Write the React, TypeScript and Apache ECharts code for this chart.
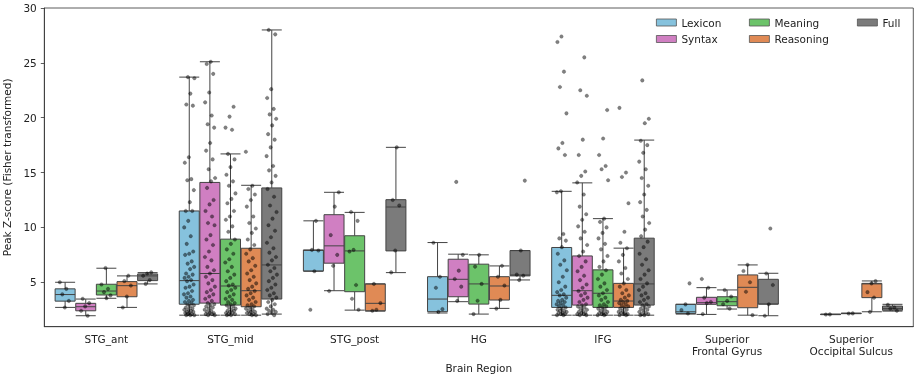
import React, { useEffect, useRef } from "react";
import * as echarts from "echarts";

const categories = [
  "STG_ant",
  "STG_mid",
  "STG_post",
  "HG",
  "IFG",
  "Superior\nFrontal Gyrus",
  "Superior\nOccipital Sulcus",
];
const seriesNames = ["Lexicon", "Syntax", "Meaning", "Reasoning", "Full"];
const colors = ["#86c2dd", "#d07fc2", "#6cc36a", "#e08a55", "#7b7b7b"];
const yTicks = [5, 10, 15, 20, 25, 30];

// [whisker low, Q1, median, Q3, whisker high] per category (Lexicon has no Superior Occipital Sulcus data)
const lexiconBoxes: number[][] = [
  [2.71, 3.28, 3.88, 4.4, 5.0],
  [2.0, 3.0, 5.15, 11.5, 23.7],
  [6.0, 6.03, 7.9, 7.95, 10.6],
  [2.2, 2.32, 3.47, 5.51, 8.62],
  [2.0, 2.71, 3.81, 8.17, 13.29],
  [2.1, 2.16, 2.31, 2.99, 2.99],
];
const syntaxBoxes: number[][] = [
  [1.95, 2.4, 2.77, 3.08, 3.47],
  [2.0, 3.1, 5.8, 14.1, 25.1],
  [4.23, 6.74, 8.32, 11.16, 13.2],
  [3.23, 3.68, 5.27, 7.1, 7.56],
  [2.0, 2.92, 4.23, 7.4, 14.06],
  [2.07, 2.99, 3.14, 3.63, 4.51],
  [2.05, 2.06, 2.07, 2.08, 2.09],
];
const meaningBoxes: number[][] = [
  [3.54, 3.84, 4.2, 4.82, 6.28],
  [2.0, 2.92, 4.66, 8.93, 16.7],
  [2.46, 4.14, 7.86, 9.24, 11.37],
  [2.1, 3.01, 4.85, 6.65, 7.5],
  [2.0, 2.71, 4.0, 6.13, 10.8],
  [2.56, 2.86, 3.23, 3.68, 4.3],
  [2.14, 2.15, 2.16, 2.17, 2.18],
];
const reasoningBoxes: number[][] = [
  [2.71, 3.68, 4.69, 5.06, 5.58],
  [2.0, 2.77, 4.23, 8.1, 13.84],
  [2.37, 2.4, 3.08, 4.85, 4.85],
  [2.62, 3.38, 4.66, 5.51, 6.49],
  [2.0, 2.71, 3.29, 4.9, 8.11],
  [2.0, 2.68, 4.54, 5.67, 6.58],
  [2.31, 3.6, 4.85, 4.9, 5.12],
];
const fullBoxes: number[][] = [
  [4.85, 5.15, 5.58, 5.76, 5.88],
  [2.1, 3.47, 6.58, 13.6, 28.0],
  [5.88, 7.86, 11.86, 12.53, 17.3],
  [5.21, 5.58, 5.67, 7.89, 7.89],
  [2.0, 2.92, 4.85, 9.02, 17.96],
  [1.95, 3.01, 3.01, 5.27, 5.82],
  [2.37, 2.45, 2.6, 2.83, 2.99],
];

// individual observations (strip points) per category
const lexiconPoints: number[][] = [
  [5.0, 4.4, 3.9, 3.3, 2.7],
  [23.7, 23.6, 22.2, 21.2, 21.1, 16.4, 15.9, 14.4, 14.3, 13.4, 12.3, 11.5, 11.5, 10.6, 10.0, 9.2, 8.5, 7.8, 7.6, 7.5, 6.9, 6.7, 6.4, 6.2, 5.8, 5.7, 5.5, 5.4, 5.2, 5.1, 4.8, 4.6, 4.5, 4.2, 4.0, 3.9, 3.7, 3.6, 3.4, 3.3, 3.2, 3.1, 3.0, 2.9, 2.8, 2.7, 2.6, 2.5, 2.5, 2.4, 2.3, 2.3, 2.2, 2.2, 2.1, 2.1, 2.0, 2.0, 2.0],
  [10.6, 7.95, 7.9, 6.0, 2.5],
  [8.6, 5.5, 4.5, 2.55, 2.3],
  [27.4, 26.9, 24.2, 22.8, 20.4, 17.7, 17.2, 16.6, 13.3, 13.2, 9.4, 9.0, 8.8, 8.2, 7.6, 7.0, 6.6, 6.1, 5.5, 5.0, 4.6, 4.3, 4.1, 3.9, 3.8, 3.6, 3.4, 3.3, 3.2, 3.1, 3.0, 2.9, 2.8, 2.7, 2.6, 2.5, 2.4, 2.4, 2.3, 2.2, 2.2, 2.1, 2.1, 2.0, 2.0],
  [4.9, 2.99, 2.46, 2.15],
  [],
];
const syntaxPoints: number[][] = [
  [3.5, 3.1, 2.8, 2.4, 1.95],
  [25.1, 24.9, 24.0, 22.3, 21.4, 20.2, 19.4, 19.1, 17.7, 17.0, 16.2, 15.3, 14.5, 14.2, 13.6, 12.5, 12.1, 11.5, 11.0, 10.4, 10.2, 9.3, 8.9, 8.4, 7.8, 7.3, 7.0, 6.4, 6.1, 5.8, 5.5, 5.2, 4.9, 4.6, 4.3, 4.1, 3.9, 3.7, 3.5, 3.3, 3.1, 3.0, 2.9, 2.8, 2.7, 2.6, 2.5, 2.4, 2.3, 2.2, 2.2, 2.1, 2.1, 2.0, 2.0],
  [13.2, 11.9, 9.3, 7.5, 6.5, 4.2],
  [14.15, 7.5, 6.06, 5.3, 4.6, 3.3],
  [25.5, 22.5, 22.0, 18.0, 16.6, 15.1, 14.7, 14.1, 13.0, 11.9, 11.2, 10.7, 10.1, 9.6, 9.0, 8.4, 7.8, 7.4, 6.9, 6.4, 6.0, 5.6, 5.2, 4.8, 4.5, 4.2, 4.0, 3.8, 3.6, 3.4, 3.2, 3.0, 2.9, 2.8, 2.7, 2.6, 2.5, 2.4, 2.3, 2.2, 2.2, 2.1, 2.1, 2.0, 2.0],
  [5.3, 4.5, 3.6, 3.2, 3.1, 2.1],
  [2.07, 2.06],
];
const meaningPoints: number[][] = [
  [6.3, 4.8, 4.4, 4.1, 3.8, 3.55],
  [21.0, 20.1, 19.1, 18.9, 16.7, 16.2, 15.5, 14.8, 14.2, 13.8, 13.1, 12.6, 12.2, 11.5, 11.0, 10.7, 10.1, 9.6, 8.9, 8.5, 8.0, 7.6, 7.1, 6.8, 6.4, 6.0, 5.7, 5.4, 5.1, 4.8, 4.7, 4.5, 4.3, 4.1, 3.9, 3.7, 3.5, 3.4, 3.2, 3.1, 3.0, 2.9, 2.8, 2.7, 2.6, 2.5, 2.4, 2.4, 2.3, 2.2, 2.2, 2.1, 2.1, 2.0, 2.0],
  [11.4, 10.6, 7.95, 7.8, 4.75, 3.5, 2.5],
  [7.5, 6.43, 4.85, 3.32, 2.1],
  [20.7, 18.1, 16.6, 15.6, 15.3, 14.3, 10.8, 10.5, 10.0, 9.5, 9.0, 8.5, 8.0, 7.4, 6.9, 6.4, 6.1, 5.7, 5.3, 4.9, 4.6, 4.3, 4.0, 3.8, 3.6, 3.4, 3.2, 3.0, 2.9, 2.8, 2.7, 2.6, 2.5, 2.4, 2.3, 2.2, 2.2, 2.1, 2.1, 2.0, 2.0],
  [4.3, 3.7, 3.3, 3.0, 2.6],
  [2.16, 2.15],
];
const reasoningPoints: number[][] = [
  [5.6, 5.1, 4.7, 3.7, 2.7],
  [16.9, 13.8, 13.5, 13.0, 12.5, 11.9, 11.0, 10.4, 9.9, 9.5, 8.9, 8.4, 8.0, 7.6, 7.2, 6.9, 6.5, 6.1, 5.8, 5.5, 5.2, 4.9, 4.6, 4.4, 4.2, 4.0, 3.8, 3.6, 3.4, 3.2, 3.0, 2.9, 2.8, 2.7, 2.6, 2.5, 2.4, 2.3, 2.3, 2.2, 2.1, 2.1, 2.0, 2.0],
  [4.85, 3.1, 2.5, 2.4],
  [6.5, 5.5, 4.7, 3.4, 2.6],
  [20.9, 15.0, 14.6, 12.2, 9.6, 8.6, 8.1, 7.5, 6.9, 6.3, 5.8, 5.3, 4.9, 4.6, 4.3, 4.0, 3.8, 3.6, 3.4, 3.3, 3.2, 3.1, 3.0, 2.9, 2.8, 2.7, 2.6, 2.5, 2.4, 2.3, 2.2, 2.2, 2.1, 2.1, 2.0, 2.0],
  [6.6, 6.03, 5.0, 4.14, 2.0],
  [5.1, 4.9, 4.1, 3.6, 2.3],
];
const fullPoints: number[][] = [
  [5.9, 5.8, 5.6, 5.2, 4.85],
  [28.0, 27.6, 22.6, 21.8, 20.8, 20.3, 19.9, 19.3, 18.5, 18.0, 17.3, 16.5, 15.6, 15.2, 14.7, 14.1, 13.5, 12.8, 12.0, 11.4, 10.8, 10.2, 9.7, 9.1, 8.6, 8.1, 7.7, 7.3, 7.0, 6.6, 6.3, 6.0, 5.7, 5.4, 5.1, 4.8, 4.5, 4.3, 4.0, 3.8, 3.6, 3.4, 3.2, 3.0, 2.8, 2.6, 2.5, 2.4, 2.3, 2.2, 2.1, 2.0],
  [17.3, 12.5, 12.0, 7.9, 5.9],
  [14.27, 7.9, 5.7, 5.6, 5.2],
  [23.4, 19.9, 19.5, 17.9, 17.5, 16.8, 16.0, 15.3, 14.5, 13.8, 13.0, 12.3, 11.6, 11.0, 10.4, 9.8, 9.2, 8.7, 8.2, 7.6, 7.1, 6.6, 6.1, 5.7, 5.3, 4.9, 4.6, 4.3, 4.0, 3.8, 3.6, 3.4, 3.2, 3.0, 2.9, 2.8, 2.7, 2.6, 2.5, 2.4, 2.3, 2.2, 2.1, 2.1, 2.0, 2.0],
  [9.9, 5.8, 4.75, 3.0, 1.95],
  [2.95, 2.7, 2.6, 2.4],
];

const allBoxes = [lexiconBoxes, syntaxBoxes, meaningBoxes, reasoningBoxes, fullBoxes];
const allPoints = [lexiconPoints, syntaxPoints, meaningPoints, reasoningPoints, fullPoints];

const FONT = "DejaVu Sans";
const FS = 10.5;

export default function App() {
  const ref = useRef<HTMLDivElement>(null);
  useEffect(() => {
    if (!ref.current) return;
    const chart = echarts.init(ref.current, null, { renderer: "svg" });

    const gridLeft = 44.3;
    const gridTop = 8;
    const gridWidth = 869;
    const gridHeight = 318.7;

    // replicate ECharts boxplot side-by-side layout so that strip points sit on their boxes
    const band = gridWidth / categories.length;
    const avail = band * 0.8 - 2;
    const gap = (avail / seriesNames.length) * 0.3;
    const bw = (avail - gap * (seriesNames.length - 1)) / seriesNames.length;
    const base = bw / 2 - avail / 2;
    const offsets = seriesNames.map((_, k) => (base + k * (gap + bw)) / band);

    const boxSeries = seriesNames.map((name, k) => ({
      type: "boxplot",
      name,
      xAxisIndex: 0,
      yAxisIndex: 0,
      boxWidth: [20, 20],
      silent: true,
      data: allBoxes[k],
      itemStyle: { color: colors[k], borderColor: "#444444", borderWidth: 1 },
      emphasis: { disabled: true },
      z: 2,
    }));

    const pointSeries = seriesNames.map((name, k) => {
      const pts: number[][] = [];
      allPoints[k].forEach((vals, c) => {
        vals.forEach((v, i) => {
          const frac = ((i * 0.6180339887 + c * 0.37 + k * 0.21) % 1) - 0.5;
          pts.push([c + offsets[k] + frac * 0.085, v]);
        });
      });
      return {
        type: "scatter",
        name: name + " points",
        xAxisIndex: 1,
        yAxisIndex: 0,
        silent: true,
        symbolSize: 3.6,
        data: pts,
        itemStyle: { color: "rgba(0,0,0,0.62)", borderColor: "rgba(0,0,0,0.4)", borderWidth: 0.5 },
        emphasis: { disabled: true },
        z: 3,
      };
    });

    const legendCommon = {
      orient: "vertical",
      icon: "rect",
      itemWidth: 20,
      itemHeight: 7,
      itemGap: 5.5,
      padding: 0,
      selectedMode: false,
      textStyle: { fontSize: FS, color: "#222", fontFamily: FONT },
      top: 17,
    };
    const legendItem = (k: number) => ({
      name: seriesNames[k],
      itemStyle: { color: colors[k], borderColor: "#555", borderWidth: 0.8 },
    });

    chart.setOption({
      animation: false,
      textStyle: { fontFamily: FONT },
      grid: {
        left: gridLeft,
        top: gridTop,
        width: gridWidth,
        height: gridHeight,
        containLabel: false,
        outerBoundsMode: "none",
        show: true,
        borderColor: "#333",
        borderWidth: 0.8,
        backgroundColor: "transparent",
      },
      legend: [
        { ...legendCommon, left: 656, data: [legendItem(0), legendItem(1)] },
        { ...legendCommon, left: 749, data: [legendItem(2), legendItem(3)] },
        { ...legendCommon, left: 857, data: [legendItem(4)] },
      ],
      xAxis: [
        {
          type: "category",
          data: categories,
          boundaryGap: true,
          name: "Brain Region",
          nameLocation: "middle",
          nameGap: 34.5,
          nameTextStyle: { fontSize: FS, color: "#222", fontFamily: FONT },
          axisLine: { onZero: false, lineStyle: { color: "#333", width: 0.8 } },
          axisTick: { alignWithLabel: true, length: 3.5, lineStyle: { color: "#333", width: 0.8 } },
          axisLabel: { fontSize: FS, color: "#222", margin: 6.5, lineHeight: 12, fontFamily: FONT },
          splitLine: { show: false },
        },
        {
          type: "value",
          min: -0.5,
          max: 6.5,
          show: false,
          axisLine: { onZero: false },
        },
      ],
      yAxis: {
        type: "value",
        min: 0.95,
        max: 30,
        name: "Peak Z-score (Fisher transformed)",
        nameLocation: "middle",
        nameGap: 25,
        nameTextStyle: { fontSize: FS, color: "#222", fontFamily: FONT },
        axisLine: { show: true, onZero: false, lineStyle: { color: "#333", width: 0.8 } },
        axisTick: { show: true, length: 3.5, customValues: yTicks, lineStyle: { color: "#333", width: 0.8 } },
        axisLabel: { fontSize: FS, color: "#222", margin: 7.5, customValues: yTicks, fontFamily: FONT },
        splitLine: { show: false },
      },
      series: [...boxSeries, ...pointSeries],
    });

    return () => chart.dispose();
  }, []);
  return <div ref={ref} style={{ position: "fixed", left: 0, top: 0, width: 915, height: 374 }} />;
}
